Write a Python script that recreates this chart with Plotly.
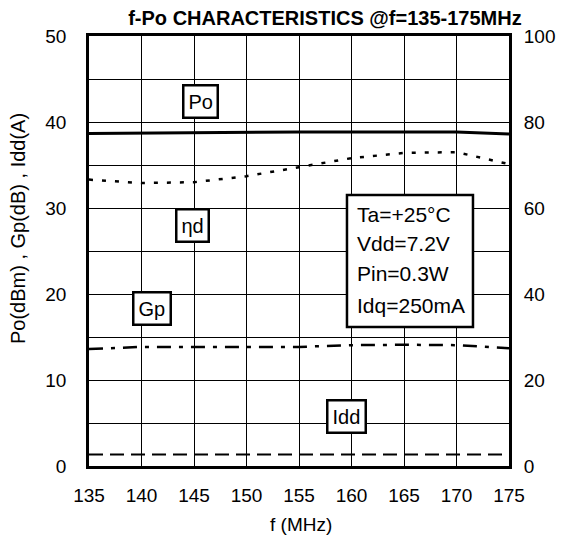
import plotly.graph_objects as go

# frequency points (MHz)
freq = [135, 140, 145, 150, 155, 160, 165, 170, 175]

# output power Po (dBm), left axis
po = [38.65, 38.7, 38.75, 38.85, 38.85, 38.85, 38.85, 38.85, 38.6]
# power gain Gp (dB), left axis
gp = [13.6, 13.85, 13.85, 13.85, 13.85, 14.05, 14.1, 14.05, 13.7]
# drain current Idd (A), left axis
idd = [1.35, 1.35, 1.35, 1.35, 1.35, 1.35, 1.35, 1.35, 1.35]
# drain efficiency (%), right axis
eta = [66.6, 65.8, 66.0, 67.4, 69.5, 71.6, 72.8, 73.0, 70.2]

# test conditions text
conditions = ["Ta=+25°C", "Vdd=7.2V", "Pin=0.3W", "Idq=250mA"]

FONT = "Liberation Sans, Arial, sans-serif"

fig = go.Figure()

fig.add_trace(go.Scatter(x=freq, y=po, mode="lines",
                         line=dict(color="black", width=3), name="Po"))
fig.add_trace(go.Scatter(x=freq, y=gp, mode="lines",
                         line=dict(color="black", width=2.5, dash="14px,8px,4px,8px"),
                         name="Gp"))
fig.add_trace(go.Scatter(x=freq, y=idd, mode="lines",
                         line=dict(color="black", width=2, dash="14px,7px"), name="Idd"))
fig.add_trace(go.Scatter(x=freq, y=eta, mode="lines", yaxis="y2",
                         line=dict(color="black", width=2.5, dash="4px,9px"), name="nd"))

# label boxes
labels = [
    (145.6, 42.4, "Po"),
    (144.9, 28.0, "ηd"),
    (141.0, 18.3, "Gp"),
    (159.5, 5.8, "Idd"),
]
for lx, ly, txt in labels:
    fig.add_annotation(x=lx, y=ly, text=txt, showarrow=False,
                       font=dict(family=FONT, size=20, color="black"),
                       bgcolor="white", bordercolor="black", borderwidth=2.5,
                       borderpad=4)

# conditions box: frame + one text per line
fig.add_shape(type="rect", x0=159.57, x1=171.57, y0=16.16, y1=31.51,
              xref="x", yref="y", layer="above",
              line=dict(color="black", width=2.5), fillcolor="white")
cond_y = [29.19, 25.93, 22.44, 18.72]
for cy, txt in zip(cond_y, conditions):
    fig.add_annotation(x=160.3, y=cy, text=txt, showarrow=False,
                       xanchor="left", yanchor="middle",
                       font=dict(family=FONT, size=21, color="black"))

# axis titles
fig.add_annotation(xref="paper", yref="paper", x=0, y=0.551, xshift=-71,
                   xanchor="center", yanchor="middle",
                   text="Po(dBm) , Gp(dB) , Idd(A)", textangle=-90,
                   showarrow=False, font=dict(family=FONT, size=20))
fig.add_annotation(xref="paper", yref="paper", x=0.505, y=-0.137,
                   xanchor="center", yanchor="middle",
                   text="f (MHz)", showarrow=False,
                   font=dict(family=FONT, size=19))

fig.update_layout(
    width=557, height=537,
    margin=dict(l=81, r=56, t=28, b=79, autoexpand=False),
    paper_bgcolor="white", plot_bgcolor="white",
    showlegend=False,
    font=dict(family=FONT, size=19, color="black"),
    title=dict(text="<b>f-Po CHARACTERISTICS @f=135-175MHz</b>",
               x=0.569, xanchor="center", y=0.981, yanchor="middle",
               font=dict(family=FONT, size=20, color="black")),
    xaxis=dict(range=[135, 175], dtick=5, tick0=135, automargin=False,
               showgrid=True, gridcolor="black", gridwidth=1,
               showline=True, linecolor="black", linewidth=2.5, mirror=True,
               zeroline=False, ticks="outside", ticklen=10,
               tickcolor="rgba(0,0,0,0)"),
    yaxis=dict(range=[0, 50], dtick=10, automargin=False,
               showgrid=True, gridcolor="black", gridwidth=1,
               minor=dict(dtick=5, showgrid=True, gridcolor="black", gridwidth=1),
               showline=True, linecolor="black", linewidth=2.5, mirror=True,
               zeroline=False, ticks="outside", ticklen=16,
               tickcolor="rgba(0,0,0,0)"),
    yaxis2=dict(range=[0, 100], dtick=20, overlaying="y", side="right",
                automargin=False,
                showgrid=False, zeroline=False, showline=False,
                ticks="outside", ticklen=10, tickcolor="rgba(0,0,0,0)"),
)

fig.write_html("out.html")
